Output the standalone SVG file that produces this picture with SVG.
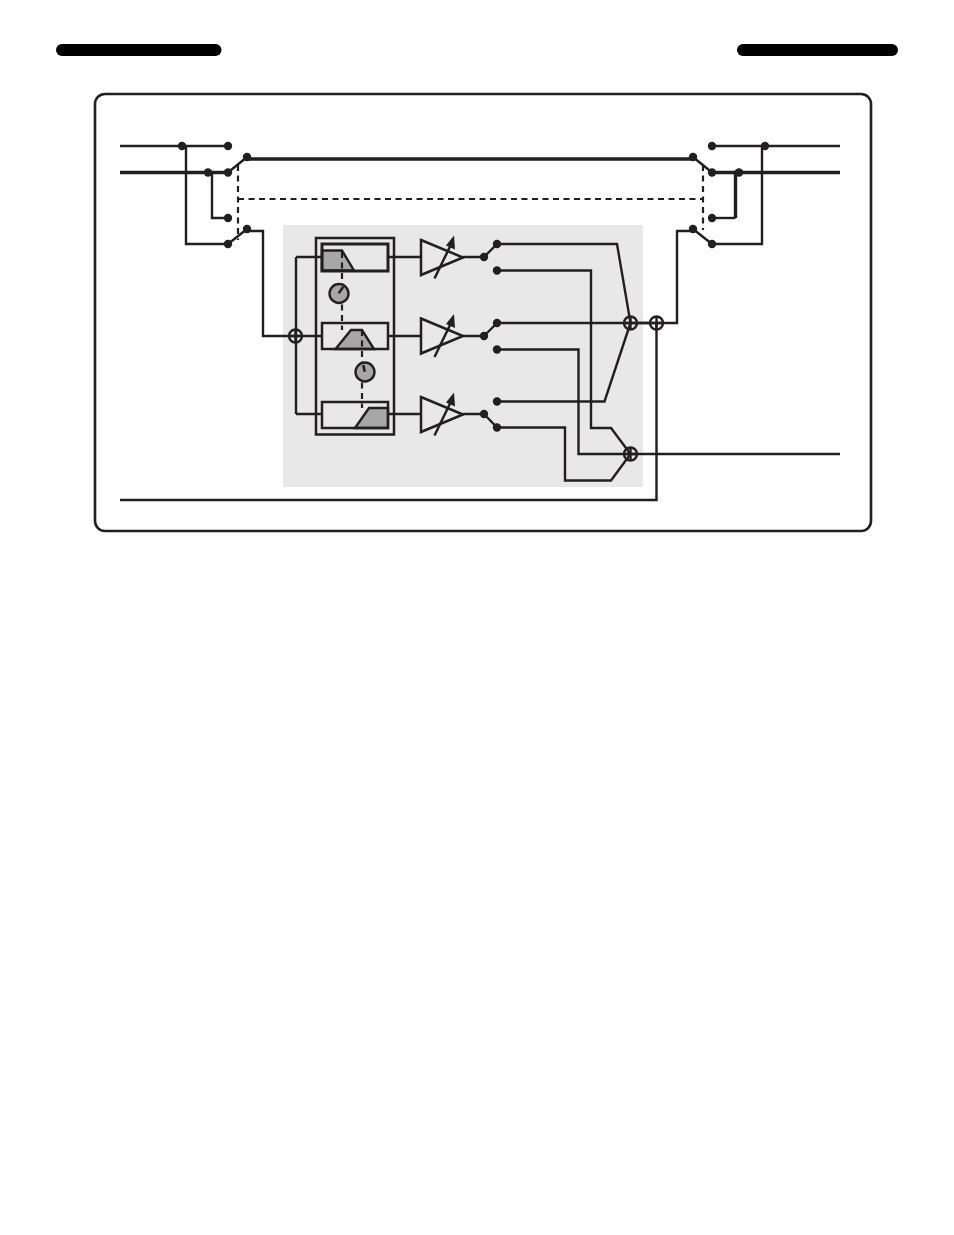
<svg xmlns="http://www.w3.org/2000/svg" width="954" height="1235" viewBox="0 0 954 1235">
<style>
.w{fill:none;stroke:#231f20;stroke-width:2.400;stroke-linejoin:miter}
.t{fill:none;stroke:#231f20;stroke-width:3.400}
.d{fill:none;stroke:#231f20;stroke-width:2.200;stroke-dasharray:6 4.500}
.b{fill:none;stroke:#231f20;stroke-width:3}
.g{fill:#a7a7a7;stroke:#231f20;stroke-width:2.400}
.f{fill:none;stroke:#231f20;stroke-width:2.500}
.dot{fill:#231f20}
.s{fill:none;stroke:#231f20;stroke-width:2.400}
</style>
<defs>
<circle id="n" r="4.200" class="dot"/>
<g id="sum"><circle r="6.500" class="s"/><path d="M-6.500 0H6.500M0-6.500V6.500" class="s"/></g>
<g id="amp"><path d="M0-17.500L42 0L0 17.500Z" class="f"/><path d="M13.500 21L31-15" class="f"/><path d="M33-22L34-8L25-12Z" class="dot"/></g>
</defs>
<rect id="bar-left" x="56" y="44" width="165.500" height="12" rx="6" fill="#000"/>
<rect id="bar-right" x="737" y="44" width="161" height="12" rx="6" fill="#000"/>
<rect id="frame" x="95" y="94" width="776" height="437" rx="10" fill="#fff" stroke="#231f20" stroke-width="2.600"/>
<rect id="panel" x="283" y="225" width="360" height="262" fill="#e8e8e8"/>
<g id="connectors">
<path class="w" d="M120 146H228M186 146V244H228M212 172.500V218H228M228 244L247 229M247 231H263V336H296M228 172.500L247 157"/>
<path class="t" d="M120 172.500H228M247 159H693M712 172.500H840"/>
<path class="d" d="M238 165V240M238 199H703M703 165V230"/>
<path class="w" d="M693 157L712 172.500M693 229L712 244M712 146H840M762 146V244H712M693 231H677V323H630"/>
<path class="t" d="M739 172.500H735.500V218" stroke-width="3"/>
<path class="w" d="M735.500 218H712"/>
<path class="w" d="M296 257V414M296 257H322M296 336H322M296 414H322M388 257H421M388 336H421M388 414H421M463 257H484M463 336H484M463 414H484M484 257L497 244M484 336L497 323M484 414L497 427.500"/>
<path class="w" d="M497 244H617L630.500 323M497 270.500H591V428H611L630.500 454M497 323H630.500M497 349.500H578.500V454H630.500M497 401.500H604.500L630.500 323M497 427.500H565V480.500H611L630.500 454M630.500 454H840M120 500H656.500V323M637 323H650"/>
</g>
<g id="filter-bank">
<rect x="316" y="238" width="78" height="196.500" class="f"/>
<path class="g" d="M322 250.500H342L354 270.500H322Z"/>
<rect x="322" y="244" width="66" height="27" class="b"/>
<path class="g" d="M335.500 349L351 330H362L374 349Z"/>
<rect x="322" y="323" width="66" height="26" class="f"/>
<path class="g" d="M355 428L369 408H388V428Z"/>
<rect x="322" y="402" width="66" height="26" class="f"/>
<path class="d" d="M342 252V330M362 330V408"/>
</g>
<g id="knob-1"><circle cx="339" cy="293.500" r="9.500" class="g"/><path d="M338.700 293.300L343.300 286.700" class="f"/></g>
<g id="knob-2"><circle cx="365" cy="372" r="9.500" class="g"/><path d="M364.700 371.700L363.300 365" class="f"/></g>
<use id="amp-1" href="#amp" x="421" y="257.500"/>
<use id="amp-2" href="#amp" x="421" y="336"/>
<use id="amp-3" href="#amp" x="421" y="414.500"/>
<use id="sum-1" href="#sum" x="295.500" y="336"/>
<use id="sum-2" href="#sum" x="630.500" y="323"/>
<use id="sum-3" href="#sum" x="656.500" y="323"/>
<use id="sum-4" href="#sum" x="630.500" y="454"/>
<g id="dots">
<use href="#n" x="182" y="146"/><use href="#n" x="228" y="146"/><use href="#n" x="247" y="157"/><use href="#n" x="208" y="172.500"/><use href="#n" x="228" y="172.500"/><use href="#n" x="228" y="218"/><use href="#n" x="247" y="229"/><use href="#n" x="228" y="244"/>
<use href="#n" x="693" y="157"/><use href="#n" x="712" y="146"/><use href="#n" x="712" y="172.500"/><use href="#n" x="739" y="172.500"/><use href="#n" x="765" y="146"/><use href="#n" x="712" y="218"/><use href="#n" x="693" y="229"/><use href="#n" x="712" y="244"/>
<use href="#n" x="484" y="257"/><use href="#n" x="497" y="244"/><use href="#n" x="497" y="270.500"/><use href="#n" x="484" y="336"/><use href="#n" x="497" y="323"/><use href="#n" x="497" y="349.500"/><use href="#n" x="484" y="414"/><use href="#n" x="497" y="401.500"/><use href="#n" x="497" y="427.500"/>
</g>
</svg>
